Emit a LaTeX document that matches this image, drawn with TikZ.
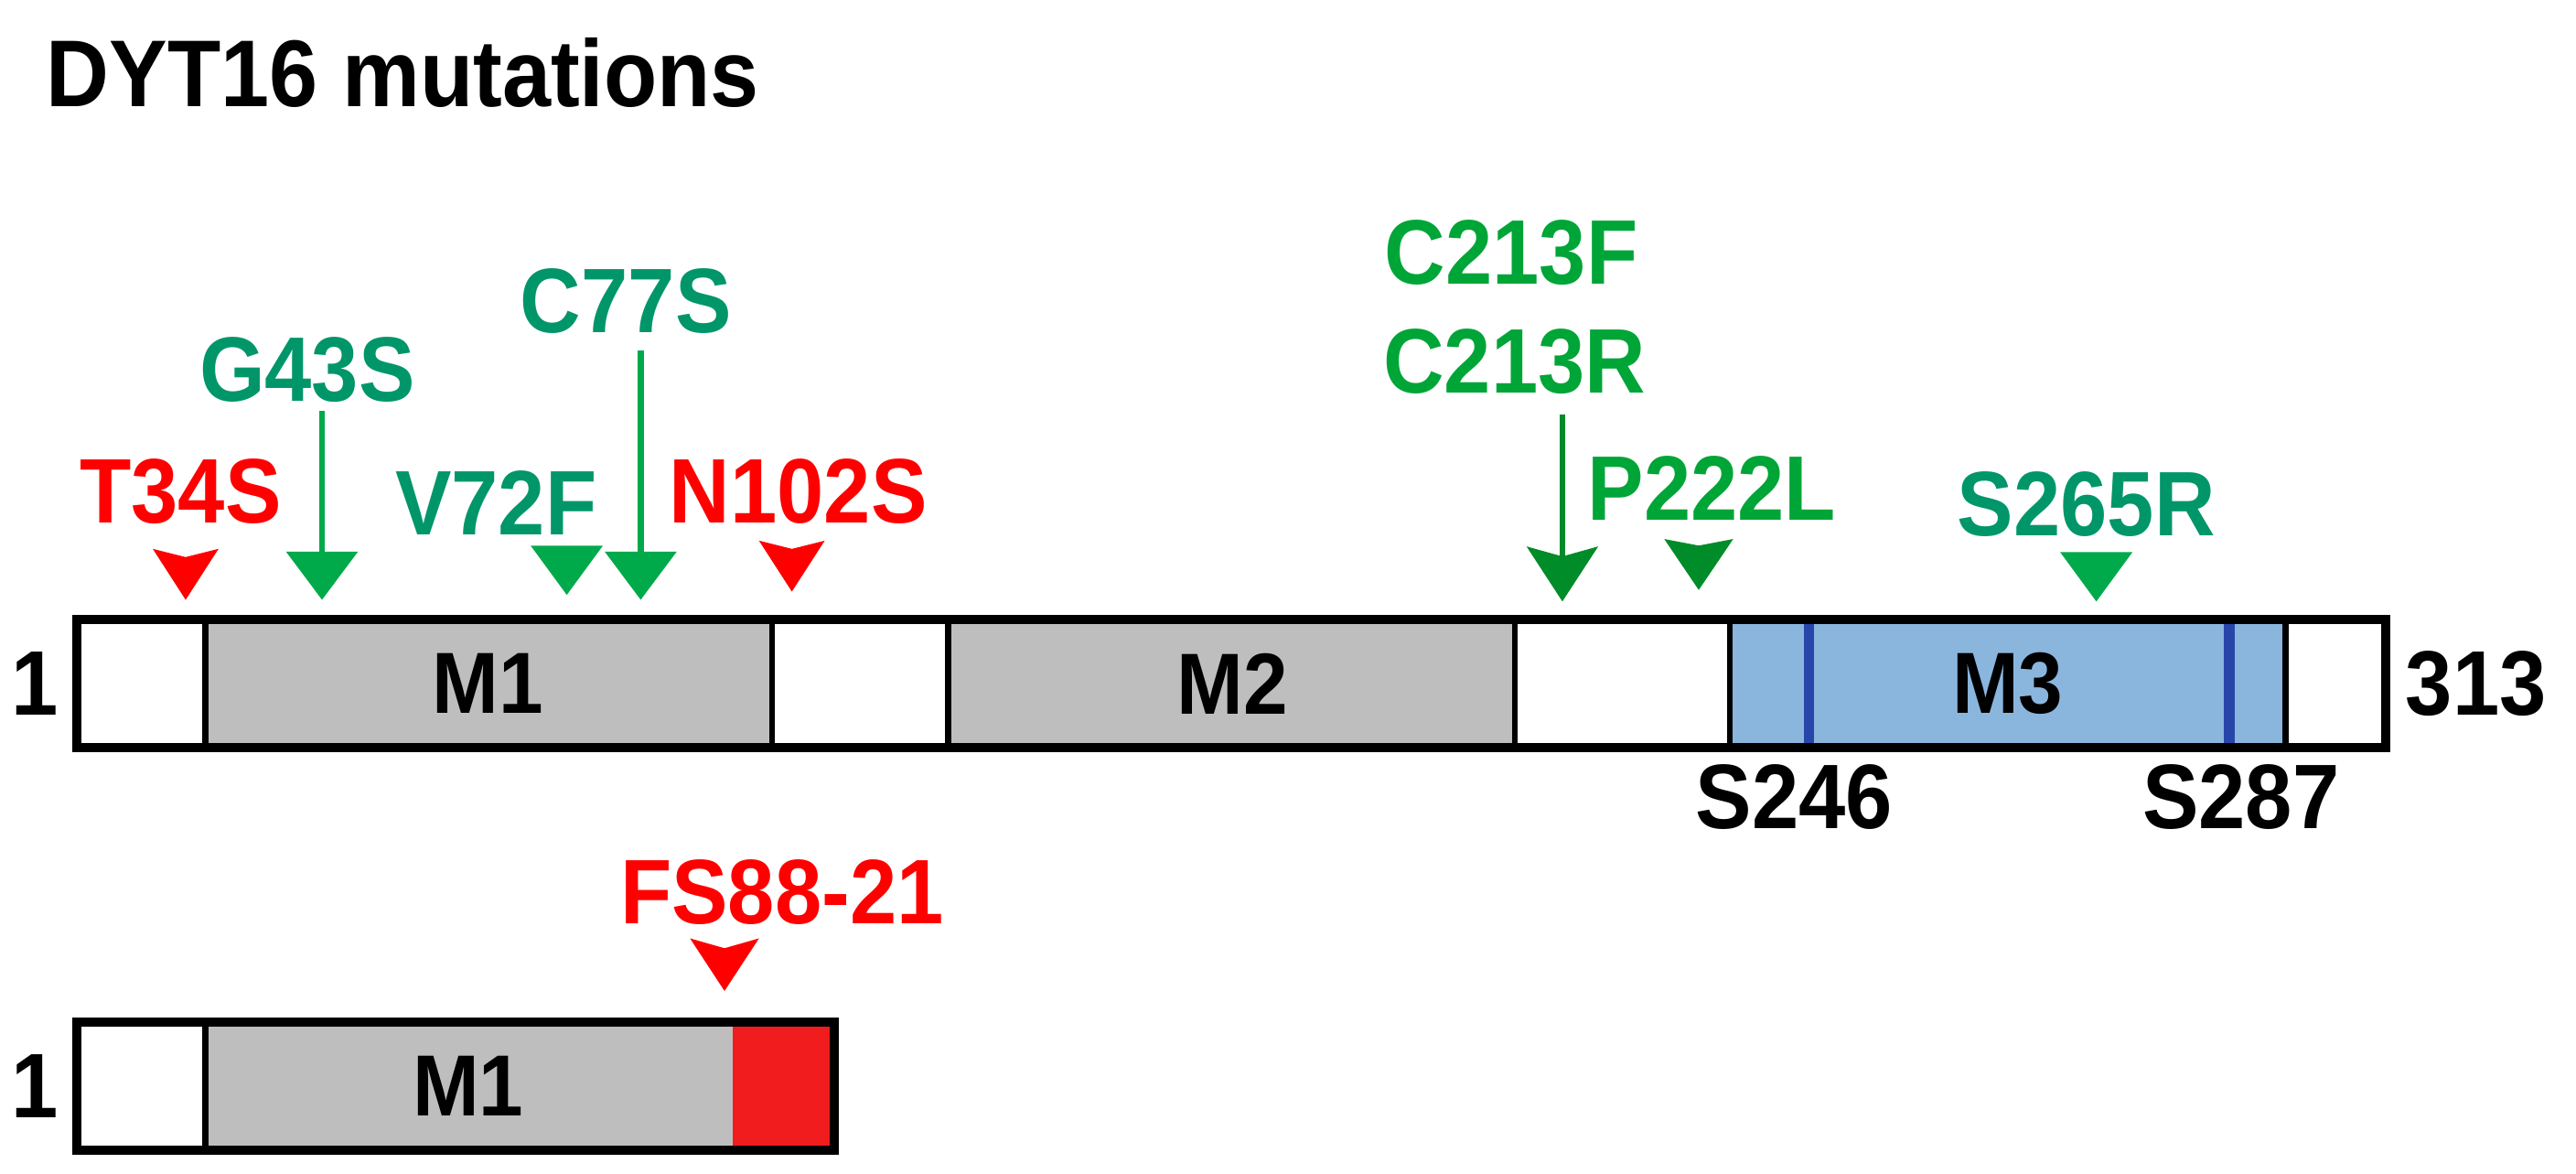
\documentclass[tikz,border=0pt]{standalone}
\usepackage{fontspec}
\setmainfont{Liberation Sans}[FakeStretch=0.92]
\usepackage{tikz}
\usetikzlibrary{arrows.meta}
\definecolor{mutteal}{RGB}{0,150,105}
\definecolor{mutgreen}{RGB}{0,165,55}
\definecolor{headgreen}{RGB}{0,170,75}
\definecolor{darkhead}{RGB}{0,140,40}
\definecolor{mutred}{RGB}{255,0,0}
\definecolor{domgray}{RGB}{190,190,190}
\definecolor{m3blue}{RGB}{138,182,222}
\definecolor{siteblue}{RGB}{40,70,170}
\definecolor{fsred}{RGB}{240,28,30}

\begin{document}
\begin{tikzpicture}[
   x=0.01796cm, y=-0.01796cm,
   lbl/.style={font=\fontsize{28.5}{30}\selectfont\bfseries, inner sep=0pt},
   domlbl/.style={font=\fontsize{27}{29}\selectfont\bfseries, inner sep=0pt},
   outline/.style={draw=black, line width=2.8pt},
   divider/.style={draw=black, line width=1.9pt},
   site/.style={draw=siteblue, line width=3.2pt},
   stem/.style={line width=1.8pt, -{Triangle[width=22pt, length=15pt]}}]

  \useasboundingbox (0,0) rectangle (1568,714);

  \node[lbl, font=\fontsize{29.5}{31}\selectfont\bfseries, anchor=west] (title) at (28,44) {DYT16 mutations};

  % full length protein
  \fill[domgray] (125,377) rectangle (470,455);
  \fill[domgray] (577,377) rectangle (922,455);
  \fill[m3blue] (1053,377) rectangle (1391,455);
  \draw[site] (1101,377) -- (1101,455);
  \draw[site] (1357,377) -- (1357,455);
  \foreach \x in {125,470,577,922,1053,1391}
    \draw[divider] (\x,377) -- (\x,455);
  \draw[outline] (47,377) rectangle (1452,455);

  \node[domlbl] (m1) at (297,416) {M1};
  \node[domlbl] (m2) at (750,416) {M2};
  \node[domlbl] (m3) at (1222,416) {M3};
  \node[lbl, anchor=east] (start) at (36,416) {1};
  \node[lbl, anchor=west] (end) at (1464,416) {313};
  \node[lbl] (s246) at (1092,485) {S246};
  \node[lbl] (s287) at (1364,485) {S287};

  % mutations
  \node[lbl, text=mutred] (t34s) at (110,299) {T34S};
  \node[lbl, text=mutteal] (g43s) at (187,225) {G43S};
  \node[lbl, text=mutteal] (v72f) at (302,306) {V72F};
  \node[lbl, text=mutteal] (c77s) at (381,183) {C77S};
  \node[lbl, text=mutred] (n102s) at (486,299) {N102S};
  \node[lbl, text=mutgreen] (c213f) at (920,154) {C213F};
  \node[lbl, text=mutgreen] (c213r) at (922,220) {C213R};
  \node[lbl, text=mutgreen] (p222l) at (1042,297) {P222L};
  \node[lbl, text=mutteal] (s265r) at (1270,307) {S265R};

  \coordinate (g43top) at (196,250);
  \coordinate (g43tip) at (196,365);
  \coordinate (c77top) at (390,213);
  \coordinate (c77tip) at (390,365);
  \coordinate (c213top) at (951,252);
  \coordinate (c213tip) at (951,366);

  \draw[stem, draw=headgreen, fill=headgreen] (g43top) -- (g43tip);
  \draw[stem, draw=headgreen, fill=headgreen] (c77top) -- (c77tip);
  \draw[line width=1.8pt, draw=darkhead, -{Stealth[width=22pt, length=17pt, inset=3pt, fill=darkhead]}]
       (c213top) -- (c213tip);

  \coordinate (t34tip) at (113,365);
  \coordinate (v72tip) at (345,362);
  \coordinate (n102tip) at (482,360);
  \coordinate (p222tip) at (1034,359);
  \coordinate (s265tip) at (1276,366);

  \fill[mutred] (t34tip) -- ++(-20,-31) -- ++(20,5) -- ++(20,-5) -- cycle;
  \fill[mutred] (n102tip) -- ++(-20,-31) -- ++(20,5) -- ++(20,-5) -- cycle;
  \fill[headgreen] (v72tip) -- ++(-22,-30) -- ++(44,0) -- cycle;
  \fill[darkhead] (p222tip) -- ++(-21,-31) -- ++(21,4) -- ++(21,-4) -- cycle;
  \fill[headgreen] (s265tip) -- ++(-22,-30) -- ++(44,0) -- cycle;

  % truncated protein
  \fill[domgray] (125,622) rectangle (446,700);
  \fill[fsred] (446,622) rectangle (508,700);
  \draw[divider] (125,622) -- (125,700);
  \draw[outline] (47,622) rectangle (508,700);

  \node[domlbl] (m1b) at (285,661) {M1};
  \node[lbl, anchor=east] (startb) at (36,661) {1};

  \node[lbl, text=mutred] (fs88) at (476,543) {FS88-21};
  \coordinate (fstip) at (441,603);
  \fill[mutred] (fstip) -- ++(-21,-32) -- ++(21,6) -- ++(21,-6) -- cycle;
\end{tikzpicture}
\end{document}
